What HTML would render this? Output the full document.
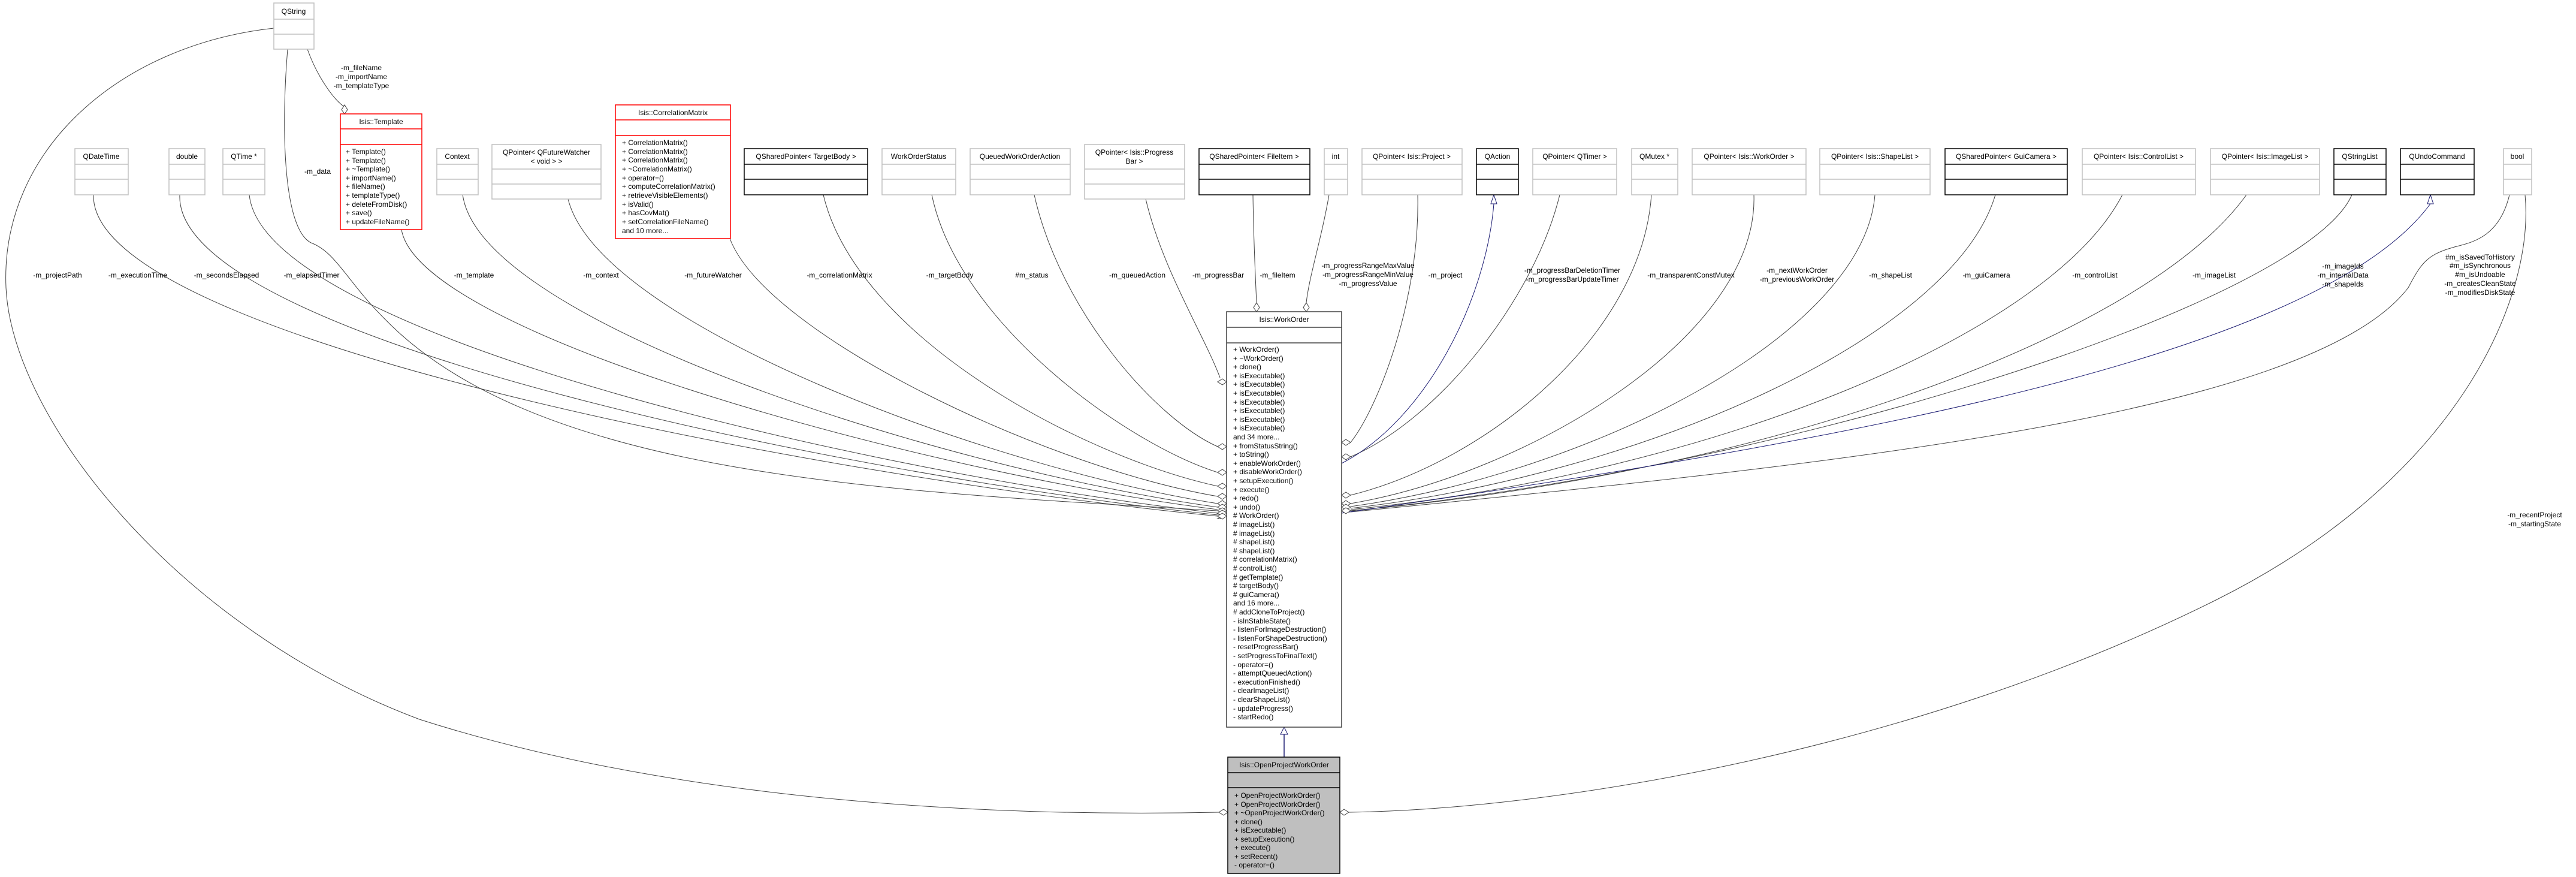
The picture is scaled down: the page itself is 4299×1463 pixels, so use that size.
<!DOCTYPE html>
<html><head><meta charset="utf-8"><style>
html,body{margin:0;padding:0;background:#fff;}
svg{display:block;font-family:"Liberation Sans",Arial,sans-serif;}
text{font-size:12px;fill:#000;}
.g{fill:#fff;stroke:#c0c0c0;stroke-width:1.5}
.k{fill:#fff;stroke:#000;stroke-width:1.5}
.r{fill:#fff;stroke:#f00;stroke-width:1.5}
.e{fill:none;stroke:#404040;stroke-width:1}
.b{fill:none;stroke:#191970;stroke-width:1}
.d{fill:#fff;stroke:#404040;stroke-width:1}
.m{text-anchor:middle}
</style></head><body>
<svg width="4299" height="1463" viewBox="0 0 4299 1463" xmlns="http://www.w3.org/2000/svg">
<!-- edges left -->
<path class="e" d="M156,325 C150,566 1375,797 2032,861"/>
<path class="e" d="M300,325 C290,565 1426,795 2032,859"/>
<path class="e" d="M416,325 C440,560 1466,792 2032,856"/>
<path class="e" d="M480,82 C470,200 470,380 519,405 C560,420 580,470 640,530 C900,800 1500,820 2032,852"/>
<path class="e" d="M670,383 C700,560 1555,790 2032,850"/>
<path class="e" d="M772,324 C800,540 1590,785 2032,846"/>
<path class="e" d="M948,332 C1000,540 1650,780 2032,840"/>
<path class="e" d="M1218,398 C1280,560 1750,780 2032,828"/>
<path class="e" d="M1374,325 C1430,560 1800,760 2032,811"/>
<path class="e" d="M1555,325 C1600,540 1880,740 2032,788"/>
<path class="e" d="M1726,325 C1770,520 1930,700 2032,745"/>
<path class="e" d="M1912,332 C1940,450 2010,560 2036,630"/>
<path class="e" d="M2091,325 C2092,400 2095,460 2097,505"/>
<path class="e" d="M2218,325 C2205,400 2185,460 2180,505"/>
<path class="e" d="M513,82 C530,130 560,170 575,178"/>
<!-- edges right -->
<path class="e" d="M2366,325 C2370,500 2300,680 2254,738"/>
<path class="e" d="M2603,325 C2560,500 2400,700 2254,762"/>
<path class="e" d="M2756,325 C2740,560 2480,770 2254,826"/>
<path class="e" d="M2927,325 C2935,560 2550,790 2254,840"/>
<path class="e" d="M3129,325 C3110,560 2650,790 2254,845"/>
<path class="e" d="M3330,325 C3260,560 2750,790 2254,848"/>
<path class="e" d="M3542,325 C3420,560 2850,790 2254,850"/>
<path class="e" d="M3749,325 C3580,560 2950,790 2254,852"/>
<path class="e" d="M3925,325 C3850,500 3000,780 2254,852"/>
<path class="e" d="M4188,325 C4170,400 4120,405 4093,413 C4050,425 4040,440 4019,480 C3850,700 3000,780 2254,854"/>
<path class="b" d="M2239,773 C2380,700 2480,500 2493,340"/>
<path class="b" d="M2239,856 C2900,760 3850,620 4056,340"/>
<path class="b" d="M2493,325 L2488,340 L2498,340 Z" style="fill:#fff"/>
<path class="b" d="M4056,325 L4051,340 L4061,340 Z" style="fill:#fff"/>
<!-- long edges -->
<path class="e" d="M457,47 C200,75 0,250 10,480 C20,700 300,1050 700,1200 C1200,1360 1800,1360 2034,1355"/>
<path class="e" d="M4214,325 C4230,500 4100,800 3700,1000 C3200,1250 2600,1350 2251,1355"/>
<!-- inheritance -->
<line x1="2143" y1="1225" x2="2143" y2="1263" stroke="#191970" stroke-width="1.5"/>
<path d="M2143,1213 L2137,1225 L2149,1225 Z" fill="#fff" stroke="#191970" stroke-width="1"/>
<!-- diamonds -->
<g class="d">
<path d="M2047,861 l-7,-4 l-8,0 l7,4 l-7,4 l8,0 Z" transform=""/>
</g>
<g fill="#fff" stroke="#404040" stroke-width="1">
<path d="M2047,637 l-7,-5 l-8,5 l8,5 Z"/>
<path d="M2047,745 l-7,-5 l-8,5 l8,5 Z"/>
<path d="M2047,788 l-7,-5 l-8,5 l8,5 Z"/>
<path d="M2047,811 l-7,-5 l-8,5 l8,5 Z"/>
<path d="M2047,828 l-7,-5 l-8,5 l8,5 Z"/>
<path d="M2047,840 l-7,-5 l-8,5 l8,5 Z"/>
<path d="M2047,846 l-7,-5 l-8,5 l8,5 Z"/>
<path d="M2047,852 l-7,-5 l-8,5 l8,5 Z"/>
<path d="M2047,856 l-7,-5 l-8,5 l8,5 Z"/>
<path d="M2047,861 l-7,-5 l-8,5 l8,5 Z"/>
<path d="M2239,738 l7,-5 l8,5 l-8,5 Z"/>
<path d="M2239,762 l7,-5 l8,5 l-8,5 Z"/>
<path d="M2239,826 l7,-5 l8,5 l-8,5 Z"/>
<path d="M2239,840 l7,-5 l8,5 l-8,5 Z"/>
<path d="M2239,846 l7,-5 l8,5 l-8,5 Z"/>
<path d="M2239,852 l7,-5 l8,5 l-8,5 Z"/>
<path d="M2097,520 l-5,-7 l0,-8 l5,7 l5,-7 Z" style="display:none"/>
<path d="M2097,520 l-5,-7 l5,-8 l5,8 Z"/>
<path d="M2180,520 l-5,-7 l5,-8 l5,8 Z"/>
<path d="M575,190 l-5,-7 l5,-8 l5,8 Z"/>
<path d="M2049,1355 l-7,-5 l-8,5 l8,5 Z"/>
<path d="M2236,1355 l7,-5 l8,5 l-8,5 Z"/>
</g>
<!-- edge labels -->
<g class="m">
<text x="603" y="117">-m_fileName</text><text x="603" y="132">-m_importName</text><text x="603" y="147">-m_templateType</text>
<text x="530" y="290">-m_data</text>
<text x="96" y="463">-m_projectPath</text>
<text x="230" y="463">-m_executionTime</text>
<text x="378" y="463">-m_secondsElapsed</text>
<text x="520" y="463">-m_elapsedTimer</text>
<text x="791" y="463">-m_template</text>
<text x="1003" y="463">-m_context</text>
<text x="1190" y="463">-m_futureWatcher</text>
<text x="1401" y="463">-m_correlationMatrix</text>
<text x="1585" y="463">-m_targetBody</text>
<text x="1722" y="463">#m_status</text>
<text x="1898" y="463">-m_queuedAction</text>
<text x="2033" y="463">-m_progressBar</text>
<text x="2132" y="463">-m_fileItem</text>
<text x="2283" y="447">-m_progressRangeMaxValue</text><text x="2283" y="462">-m_progressRangeMinValue</text><text x="2283" y="477">-m_progressValue</text>
<text x="2412" y="463">-m_project</text>
<text x="2624" y="455">-m_progressBarDeletionTimer</text><text x="2624" y="470">-m_progressBarUpdateTimer</text>
<text x="2822" y="463">-m_transparentConstMutex</text>
<text x="2999" y="455">-m_nextWorkOrder</text><text x="2999" y="470">-m_previousWorkOrder</text>
<text x="3155" y="463">-m_shapeList</text>
<text x="3315" y="463">-m_guiCamera</text>
<text x="3496" y="463">-m_controlList</text>
<text x="3695" y="463">-m_imageList</text>
<text x="3910" y="448">-m_imageIds</text><text x="3910" y="463">-m_internalData</text><text x="3910" y="478">-m_shapeIds</text>
<text x="4139" y="433">#m_isSavedToHistory</text><text x="4139" y="447">#m_isSynchronous</text><text x="4139" y="462">#m_isUndoable</text><text x="4139" y="477">-m_createsCleanState</text><text x="4139" y="492">-m_modifiesDiskState</text>
<text x="4230" y="863">-m_recentProject</text><text x="4230" y="878">-m_startingState</text>
</g>
<!-- boxes -->
<g>
<rect class="g" x="457" y="5" width="67" height="77"/><line class="g" x1="457" y1="32" x2="524" y2="32"/><line class="g" x1="457" y1="57" x2="524" y2="57"/><text class="m" x="490" y="23">QString</text>
<rect class="g" x="125" y="248" width="89" height="77"/><line class="g" x1="125" y1="274" x2="214" y2="274"/><line class="g" x1="125" y1="299" x2="214" y2="299"/><text class="m" x="169" y="265">QDateTime</text>
<rect class="g" x="282" y="248" width="60" height="77"/><line class="g" x1="282" y1="274" x2="342" y2="274"/><line class="g" x1="282" y1="299" x2="342" y2="299"/><text class="m" x="312" y="265">double</text>
<rect class="g" x="372" y="248" width="70" height="77"/><line class="g" x1="372" y1="274" x2="442" y2="274"/><line class="g" x1="372" y1="299" x2="442" y2="299"/><text class="m" x="407" y="265">QTime *</text>
<rect class="g" x="729" y="248" width="69" height="77"/><line class="g" x1="729" y1="274" x2="798" y2="274"/><line class="g" x1="729" y1="299" x2="798" y2="299"/><text class="m" x="763" y="265">Context</text>
<rect class="g" x="821" y="241" width="182" height="91"/><line class="g" x1="821" y1="282" x2="1003" y2="282"/><line class="g" x1="821" y1="307" x2="1003" y2="307"/><text class="m" x="912" y="258">QPointer&lt; QFutureWatcher</text><text class="m" x="912" y="273">&lt; void &gt; &gt;</text>
<rect class="k" x="1242" y="248" width="206" height="77"/><line class="k" x1="1242" y1="274" x2="1448" y2="274"/><line class="k" x1="1242" y1="299" x2="1448" y2="299"/><text class="m" x="1345" y="265">QSharedPointer&lt; TargetBody &gt;</text>
<rect class="g" x="1472" y="248" width="123" height="77"/><line class="g" x1="1472" y1="274" x2="1595" y2="274"/><line class="g" x1="1472" y1="299" x2="1595" y2="299"/><text class="m" x="1533" y="265">WorkOrderStatus</text>
<rect class="g" x="1619" y="248" width="167" height="77"/><line class="g" x1="1619" y1="274" x2="1786" y2="274"/><line class="g" x1="1619" y1="299" x2="1786" y2="299"/><text class="m" x="1702" y="265">QueuedWorkOrderAction</text>
<rect class="g" x="1810" y="241" width="167" height="91"/><line class="g" x1="1810" y1="282" x2="1977" y2="282"/><line class="g" x1="1810" y1="307" x2="1977" y2="307"/><text class="m" x="1893" y="258">QPointer&lt; Isis::Progress</text><text class="m" x="1893" y="273">Bar &gt;</text>
<rect class="k" x="2001" y="248" width="185" height="77"/><line class="k" x1="2001" y1="274" x2="2186" y2="274"/><line class="k" x1="2001" y1="299" x2="2186" y2="299"/><text class="m" x="2093" y="265">QSharedPointer&lt; FileItem &gt;</text>
<rect class="g" x="2210" y="248" width="39" height="77"/><line class="g" x1="2210" y1="274" x2="2249" y2="274"/><line class="g" x1="2210" y1="299" x2="2249" y2="299"/><text class="m" x="2229" y="265">int</text>
<rect class="g" x="2273" y="248" width="167" height="77"/><line class="g" x1="2273" y1="274" x2="2440" y2="274"/><line class="g" x1="2273" y1="299" x2="2440" y2="299"/><text class="m" x="2356" y="265">QPointer&lt; Isis::Project &gt;</text>
<rect class="k" x="2464" y="248" width="70" height="77"/><line class="k" x1="2464" y1="274" x2="2534" y2="274"/><line class="k" x1="2464" y1="299" x2="2534" y2="299"/><text class="m" x="2499" y="265">QAction</text>
<rect class="g" x="2558" y="248" width="140" height="77"/><line class="g" x1="2558" y1="274" x2="2698" y2="274"/><line class="g" x1="2558" y1="299" x2="2698" y2="299"/><text class="m" x="2628" y="265">QPointer&lt; QTimer &gt;</text>
<rect class="g" x="2723" y="248" width="77" height="77"/><line class="g" x1="2723" y1="274" x2="2800" y2="274"/><line class="g" x1="2723" y1="299" x2="2800" y2="299"/><text class="m" x="2761" y="265">QMutex *</text>
<rect class="g" x="2824" y="248" width="190" height="77"/><line class="g" x1="2824" y1="274" x2="3014" y2="274"/><line class="g" x1="2824" y1="299" x2="3014" y2="299"/><text class="m" x="2919" y="265">QPointer&lt; Isis::WorkOrder &gt;</text>
<rect class="g" x="3037" y="248" width="184" height="77"/><line class="g" x1="3037" y1="274" x2="3221" y2="274"/><line class="g" x1="3037" y1="299" x2="3221" y2="299"/><text class="m" x="3129" y="265">QPointer&lt; Isis::ShapeList &gt;</text>
<rect class="k" x="3246" y="248" width="204" height="77"/><line class="k" x1="3246" y1="274" x2="3450" y2="274"/><line class="k" x1="3246" y1="299" x2="3450" y2="299"/><text class="m" x="3348" y="265">QSharedPointer&lt; GuiCamera &gt;</text>
<rect class="g" x="3475" y="248" width="189" height="77"/><line class="g" x1="3475" y1="274" x2="3664" y2="274"/><line class="g" x1="3475" y1="299" x2="3664" y2="299"/><text class="m" x="3569" y="265">QPointer&lt; Isis::ControlList &gt;</text>
<rect class="g" x="3689" y="248" width="182" height="77"/><line class="g" x1="3689" y1="274" x2="3871" y2="274"/><line class="g" x1="3689" y1="299" x2="3871" y2="299"/><text class="m" x="3780" y="265">QPointer&lt; Isis::ImageList &gt;</text>
<rect class="k" x="3895" y="248" width="87" height="77"/><line class="k" x1="3895" y1="274" x2="3982" y2="274"/><line class="k" x1="3895" y1="299" x2="3982" y2="299"/><text class="m" x="3938" y="265">QStringList</text>
<rect class="k" x="4006" y="248" width="123" height="77"/><line class="k" x1="4006" y1="274" x2="4129" y2="274"/><line class="k" x1="4006" y1="299" x2="4129" y2="299"/><text class="m" x="4067" y="265">QUndoCommand</text>
<rect class="g" x="4178" y="248" width="47" height="77"/><line class="g" x1="4178" y1="274" x2="4225" y2="274"/><line class="g" x1="4178" y1="299" x2="4225" y2="299"/><text class="m" x="4201" y="265">bool</text>
</g>
<!-- Template -->
<rect class="r" x="568" y="190" width="136" height="193"/><line class="r" x1="568" y1="215" x2="704" y2="215"/><line class="r" x1="568" y1="241" x2="704" y2="241"/>
<text class="m" x="636" y="207">Isis::Template</text>
<g><text x="577" y="257">+ Template()</text><text x="577" y="272">+ Template()</text><text x="577" y="286">+ ~Template()</text><text x="577" y="301">+ importName()</text><text x="577" y="315">+ fileName()</text><text x="577" y="330">+ templateType()</text><text x="577" y="345">+ deleteFromDisk()</text><text x="577" y="359">+ save()</text><text x="577" y="374">+ updateFileName()</text></g>
<!-- CorrelationMatrix -->
<rect class="r" x="1027" y="175" width="192" height="223"/><line class="r" x1="1027" y1="200" x2="1219" y2="200"/><line class="r" x1="1027" y1="226" x2="1219" y2="226"/>
<text class="m" x="1123" y="192">Isis::CorrelationMatrix</text>
<g><text x="1038" y="242">+ CorrelationMatrix()</text><text x="1038" y="257">+ CorrelationMatrix()</text><text x="1038" y="271">+ CorrelationMatrix()</text><text x="1038" y="286">+ ~CorrelationMatrix()</text><text x="1038" y="301">+ operator=()</text><text x="1038" y="315">+ computeCorrelationMatrix()</text><text x="1038" y="330">+ retrieveVisibleElements()</text><text x="1038" y="345">+ isValid()</text><text x="1038" y="359">+ hasCovMat()</text><text x="1038" y="374">+ setCorrelationFileName()</text><text x="1038" y="389">and 10 more...</text></g>
<!-- WorkOrder -->
<rect x="2047" y="520" width="192" height="693" fill="#fff" stroke="#404040" stroke-width="1.5"/>
<line x1="2047" y1="546" x2="2239" y2="546" stroke="#404040" stroke-width="1.5"/><line x1="2047" y1="572" x2="2239" y2="572" stroke="#404040" stroke-width="1.5"/>
<text class="m" x="2143" y="537">Isis::WorkOrder</text>
<g>
<text x="2058" y="587">+ WorkOrder()</text>
<text x="2058" y="602">+ ~WorkOrder()</text>
<text x="2058" y="616">+ clone()</text>
<text x="2058" y="631">+ isExecutable()</text>
<text x="2058" y="645">+ isExecutable()</text>
<text x="2058" y="660">+ isExecutable()</text>
<text x="2058" y="675">+ isExecutable()</text>
<text x="2058" y="689">+ isExecutable()</text>
<text x="2058" y="704">+ isExecutable()</text>
<text x="2058" y="718">+ isExecutable()</text>
<text x="2058" y="733">and 34 more...</text>
<text x="2058" y="748">+ fromStatusString()</text>
<text x="2058" y="762">+ toString()</text>
<text x="2058" y="777">+ enableWorkOrder()</text>
<text x="2058" y="791">+ disableWorkOrder()</text>
<text x="2058" y="806">+ setupExecution()</text>
<text x="2058" y="821">+ execute()</text>
<text x="2058" y="835">+ redo()</text>
<text x="2058" y="850">+ undo()</text>
<text x="2058" y="864"># WorkOrder()</text>
<text x="2058" y="879"># imageList()</text>
<text x="2058" y="894"># imageList()</text>
<text x="2058" y="908"># shapeList()</text>
<text x="2058" y="923"># shapeList()</text>
<text x="2058" y="937"># correlationMatrix()</text>
<text x="2058" y="952"># controlList()</text>
<text x="2058" y="967"># getTemplate()</text>
<text x="2058" y="981"># targetBody()</text>
<text x="2058" y="996"># guiCamera()</text>
<text x="2058" y="1010">and 16 more...</text>
<text x="2058" y="1025"># addCloneToProject()</text>
<text x="2058" y="1040">- isInStableState()</text>
<text x="2058" y="1054">- listenForImageDestruction()</text>
<text x="2058" y="1069">- listenForShapeDestruction()</text>
<text x="2058" y="1083">- resetProgressBar()</text>
<text x="2058" y="1098">- setProgressToFinalText()</text>
<text x="2058" y="1113">- operator=()</text>
<text x="2058" y="1127">- attemptQueuedAction()</text>
<text x="2058" y="1142">- executionFinished()</text>
<text x="2058" y="1156">- clearImageList()</text>
<text x="2058" y="1171">- clearShapeList()</text>
<text x="2058" y="1186">- updateProgress()</text>
<text x="2058" y="1200">- startRedo()</text>
</g>
<!-- OpenProjectWorkOrder -->
<rect x="2049" y="1263" width="187" height="194" fill="#bfbfbf" stroke="#000" stroke-width="1.5"/>
<line x1="2049" y1="1289" x2="2236" y2="1289" stroke="#000" stroke-width="1.5"/><line x1="2049" y1="1314" x2="2236" y2="1314" stroke="#000" stroke-width="1.5"/>
<text class="m" x="2143" y="1280">Isis::OpenProjectWorkOrder</text>
<g>
<text x="2060" y="1331">+ OpenProjectWorkOrder()</text>
<text x="2060" y="1346">+ OpenProjectWorkOrder()</text>
<text x="2060" y="1360">+ ~OpenProjectWorkOrder()</text>
<text x="2060" y="1375">+ clone()</text>
<text x="2060" y="1389">+ isExecutable()</text>
<text x="2060" y="1404">+ setupExecution()</text>
<text x="2060" y="1418">+ execute()</text>
<text x="2060" y="1433">+ setRecent()</text>
<text x="2060" y="1447">- operator=()</text>
</g>
</svg>
</body></html>
